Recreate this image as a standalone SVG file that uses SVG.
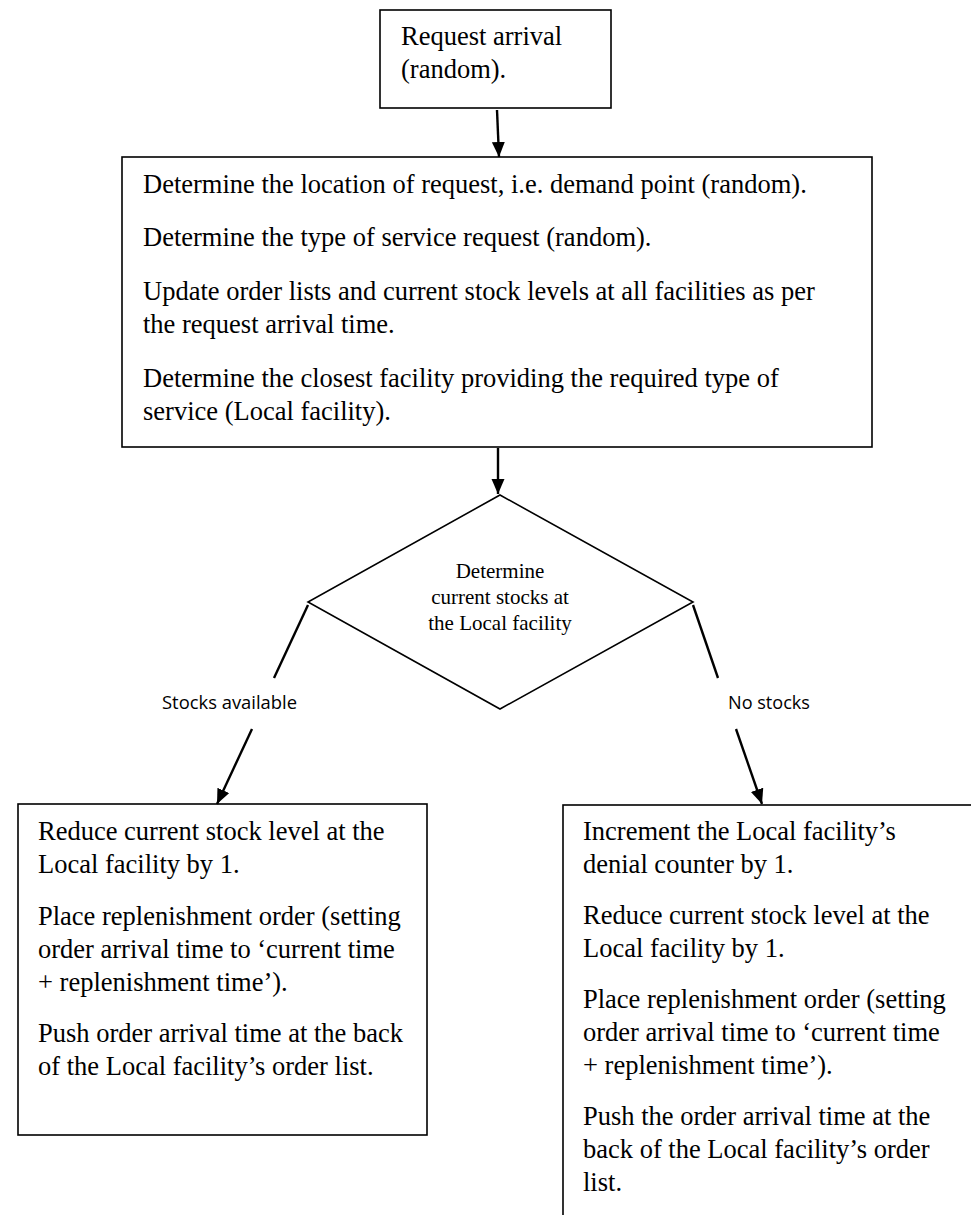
<svg xmlns="http://www.w3.org/2000/svg" width="971" height="1215" viewBox="0 0 971 1215">
  <defs>
    <marker id="head" markerUnits="userSpaceOnUse" markerWidth="16" markerHeight="14" refX="15" refY="6.5" orient="auto">
      <path d="M0,0 L15,6.5 L0,13 Z" fill="#000"/>
    </marker>
    <style>
      .box { fill: #fff; stroke: #000; stroke-width: 1.6; }
      .txt { font-family: "Liberation Serif", "Times New Roman", serif; font-size: 26.5px; fill: #000; }
      .dtxt { font-family: "Liberation Serif", "Times New Roman", serif; font-size: 21px; fill: #000; text-anchor: middle; }
      .lbl { font-family: "Open Sans", "Liberation Sans", sans-serif; font-size: 18px; fill: #000; }
      .conn { stroke: #000; stroke-width: 2.4; fill: none; }
    </style>
  </defs>
  <rect width="971" height="1215" fill="#fff"/>

  <!-- process steps -->
  <g id="request-arrival">
    <rect class="box" x="380" y="10" width="231" height="98"/>
    <text class="txt" x="401" y="45">Request arrival</text>
    <text class="txt" x="401" y="78">(random).</text>
  </g>

  <g id="locate-request">
    <rect class="box" x="122" y="157" width="750" height="290"/>
    <text class="txt" x="143" y="193">Determine the location of request, i.e. demand point (random).</text>
    <text class="txt" x="143" y="246">Determine the type of service request (random).</text>
    <text class="txt" x="143" y="300">Update order lists and current stock levels at all facilities as per</text>
    <text class="txt" x="143" y="333">the request arrival time.</text>
    <text class="txt" x="143" y="387">Determine the closest facility providing the required type of</text>
    <text class="txt" x="143" y="420">service (Local facility).</text>
  </g>

  <g id="stock-check">
    <polygon class="box" points="500,495 693,602 500,709 308,602"/>
    <text class="dtxt" x="500" y="578">Determine</text>
    <text class="dtxt" x="500" y="604">current stocks at</text>
    <text class="dtxt" x="500" y="630">the Local facility</text>
  </g>

  <g id="stocks-available-branch">
    <rect class="box" x="18" y="804" width="409" height="331"/>
    <text class="txt" x="38" y="840">Reduce current stock level at the</text>
    <text class="txt" x="38" y="873">Local facility by 1.</text>
    <text class="txt" x="38" y="925">Place replenishment order (setting</text>
    <text class="txt" x="38" y="958">order arrival time to ‘current time</text>
    <text class="txt" x="38" y="991">+ replenishment time’).</text>
    <text class="txt" x="38" y="1042">Push order arrival time at the back</text>
    <text class="txt" x="38" y="1075">of the Local facility’s order list.</text>
  </g>

  <g id="no-stocks-branch">
    <rect class="box" x="563" y="805" width="430" height="440"/>
    <text class="txt" x="583" y="840">Increment the Local facility’s</text>
    <text class="txt" x="583" y="873">denial counter by 1.</text>
    <text class="txt" x="583" y="924">Reduce current stock level at the</text>
    <text class="txt" x="583" y="957">Local facility by 1.</text>
    <text class="txt" x="583" y="1008">Place replenishment order (setting</text>
    <text class="txt" x="583" y="1041">order arrival time to ‘current time</text>
    <text class="txt" x="583" y="1074">+ replenishment time’).</text>
    <text class="txt" x="583" y="1125">Push the order arrival time at the</text>
    <text class="txt" x="583" y="1158">back of the Local facility’s order</text>
    <text class="txt" x="583" y="1191">list.</text>
  </g>

  <!-- connectors -->
  <g id="connectors">
    <line class="conn" x1="497" y1="110" x2="499" y2="157" marker-end="url(#head)"/>
    <line class="conn" x1="498" y1="448" x2="498" y2="494" marker-end="url(#head)"/>
    <line class="conn" x1="308" y1="605" x2="274" y2="678"/>
    <line class="conn" x1="252" y1="729" x2="217" y2="804" marker-end="url(#head)"/>
    <line class="conn" x1="693" y1="605" x2="718" y2="678"/>
    <line class="conn" x1="736" y1="729" x2="762" y2="804" marker-end="url(#head)"/>
    <text class="lbl" x="162" y="709" textLength="135" lengthAdjust="spacingAndGlyphs">Stocks available</text>
    <text class="lbl" x="728" y="709" textLength="82" lengthAdjust="spacingAndGlyphs">No stocks</text>
  </g>
</svg>
